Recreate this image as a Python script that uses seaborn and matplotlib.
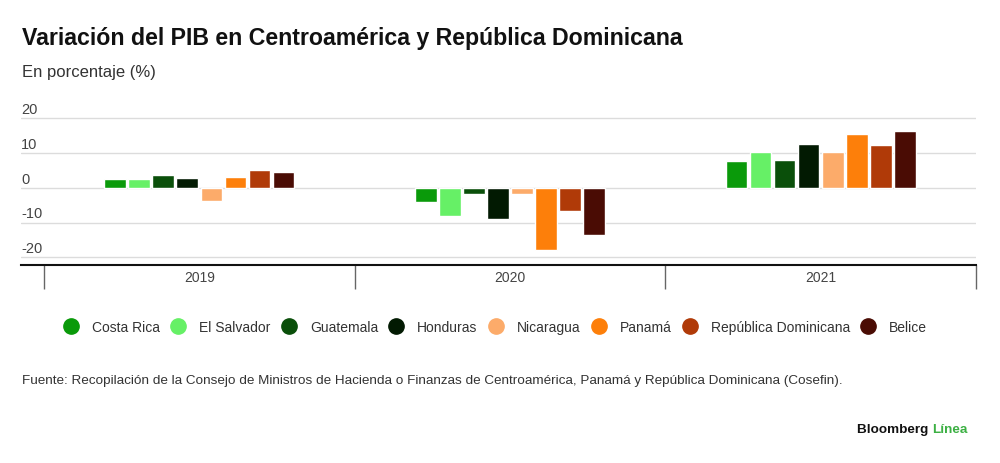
import pandas as pd
import seaborn as sns
import matplotlib.pyplot as plt
from matplotlib.lines import Line2D

years = ["2019", "2020", "2021"]
countries = ["Costa Rica", "El Salvador", "Guatemala", "Honduras",
             "Nicaragua", "Panamá", "República Dominicana", "Belice"]
colors = ["#0a9a0a", "#66f066", "#0a4f0a", "#021a02",
          "#fcab6a", "#fd7f0a", "#b03a08", "#4a0c04"]
v2019 = [2.4, 2.5, 3.8, 2.7, -3.8, 3.0, 5.1, 4.4]
v2020 = [-4.0, -8.2, -1.8, -8.9, -1.7, -18.0, -6.7, -13.7]
v2021 = [7.8, 10.4, 8.1, 12.6, 10.4, 15.4, 12.3, 16.3]
yticks = [-20, -10, 0, 10, 20]

rows = []
for year, vals in zip(years, [v2019, v2020, v2021]):
    for c, v in zip(countries, vals):
        rows.append({"year": year, "country": c, "value": v})
df = pd.DataFrame(rows)

sns.set_style("white")
plt.rcParams['font.family'] = ['Liberation Sans', 'DejaVu Sans']

fig = plt.figure(figsize=(10, 4.64), dpi=100)
ax = fig.add_axes([0.021, 1 - 266 / 464, 0.955, 166 / 464])

sns.barplot(data=df, x="year", y="value", hue="country", hue_order=countries,
            palette=colors, width=0.62, gap=0.1, saturation=1, ax=ax, legend=False)

ax.set_xlim(-0.574, 2.5)
ax.set_ylim(-22.2, 25.5)
ax.set_xlabel("")
ax.set_ylabel("")
ax.set_yticks(yticks)
ax.set_yticklabels([])
ax.tick_params(axis="both", length=0, labelsize=10, colors="#444444")
ax.set_xticks([])
for v in yticks:
    ax.axhline(v, color="#dcdcdc", lw=1, zorder=0)
    ax.text(0.0, v + 0.6, str(v), transform=ax.get_yaxis_transform(),
            ha="left", va="bottom", fontsize=10.5, color="#444444")

for s in ["top", "right", "left"]:
    ax.spines[s].set_visible(False)
ax.spines["bottom"].set_color("#111111")
ax.spines["bottom"].set_linewidth(1.5)

ax.vlines([-0.5, 0.5, 1.5, 2.5], 0, -0.145, transform=ax.get_xaxis_transform(),
          color="#666666", lw=1, clip_on=False)
for i, y in enumerate(years):
    ax.text(i, -0.072, y, transform=ax.get_xaxis_transform(), ha="center",
            va="center", fontsize=10, color="#444444")

fig.text(0.022, 1 - 38 / 464, "Variación del PIB en Centroamérica y República Dominicana",
         fontsize=16.7, fontweight="bold", color="#111111", va="center")
fig.text(0.022, 1 - 72 / 464, "En porcentaje (%)", fontsize=12, color="#333333", va="center")

handles = [Line2D([0], [0], marker="o", color="none", markerfacecolor=c,
                  markeredgecolor=c, markersize=11) for c in colors]
fig.legend(handles, countries, loc="center", bbox_to_anchor=(0.495, 1 - 328 / 464),
           ncol=8, frameon=False, fontsize=10, labelcolor="#333333",
           handletextpad=0.9, columnspacing=0.72, handlelength=1.2)

fig.text(0.022, 1 - 381 / 464,
         "Fuente: Recopilación de la Consejo de Ministros de Hacienda o Finanzas de "
         "Centroamérica, Panamá y República Dominicana (Cosefin).",
         fontsize=9.7, color="#333333", va="center")

t = fig.text(0.857, 1 - 430 / 464, "Bloomberg ", fontsize=9.7, fontweight="bold",
             color="#111111", va="center")
fig.canvas.draw()
bb = t.get_window_extent()
fig.text(bb.x1 / fig.bbox.width, 1 - 430 / 464, "Línea", fontsize=9.7,
         fontweight="bold", color="#3cb043", va="center")

fig.savefig("out.png", dpi=100, facecolor="white")
